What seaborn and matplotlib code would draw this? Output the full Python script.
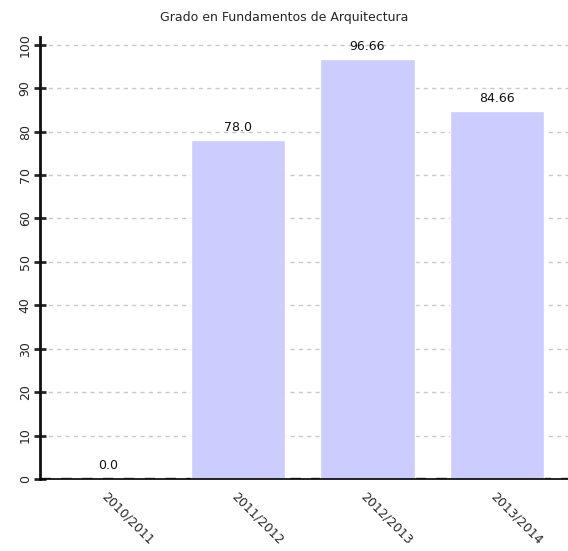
import matplotlib
matplotlib.use("Agg")
import matplotlib.pyplot as plt
import pandas as pd
import seaborn as sns

# データ
courses = ["2010/2011", "2011/2012", "2012/2013", "2013/2014"]
values = [0.0, 78.0, 96.66, 84.66]
value_labels = ["0.0", "78.0", "96.66", "84.66"]
subtitle = "Grado en Fundamentos de Arquitectura"

df = pd.DataFrame({"curso": courses, "valor": values})

sns.set_style("white")
plt.rcParams["font.family"] = ["DejaVu Sans"]

fig = plt.figure(figsize=(5.68, 5.51), dpi=100)
ax = fig.add_axes([0.0704, 0.1307, 0.9296, 0.8023])

sns.barplot(data=df, x="curso", y="valor", color="#ccccff", saturation=1,
            width=0.73, ax=ax, zorder=2)

# 棒の上に値を表示
for bar, lbl in zip(ax.patches, value_labels):
    ax.text(bar.get_x() + bar.get_width() / 2, bar.get_height() + 1.5, lbl,
            ha="center", va="bottom", fontsize=9, color="#111111", zorder=3)

ax.set_xlim(-0.53, 3.55)
ax.set_ylim(0, 101.8)
ax.set_yticks(range(0, 101, 10))
ax.yaxis.grid(True, linestyle=(0, (3, 3)), color="#c8c8c8", linewidth=1)
ax.set_axisbelow(True)
ax.axhline(0, color="#555555", linestyle=(0, (3, 3)), linewidth=2.5, zorder=1)

for s in ["top", "right"]:
    ax.spines[s].set_visible(False)
ax.spines["left"].set_linewidth(2)
ax.spines["left"].set_color("#111111")
ax.spines["bottom"].set_linewidth(1.2)
ax.spines["bottom"].set_color("#000000")

ax.tick_params(axis="y", direction="inout", length=8, width=2, labelsize=9,
               left=True, labelrotation=90, pad=2)
ax.tick_params(axis="x", length=0, labelsize=9, pad=8)
for t in ax.get_yticklabels():
    t.set_va("center")
plt.setp(ax.get_xticklabels(), rotation=-45, ha="left", va="top",
         rotation_mode="anchor")
ax.set_xlabel("")
ax.set_ylabel("")

fig.text(0.5, 0.969, subtitle, ha="center", va="center", fontsize=9)

fig.savefig("out.png", dpi=100)
